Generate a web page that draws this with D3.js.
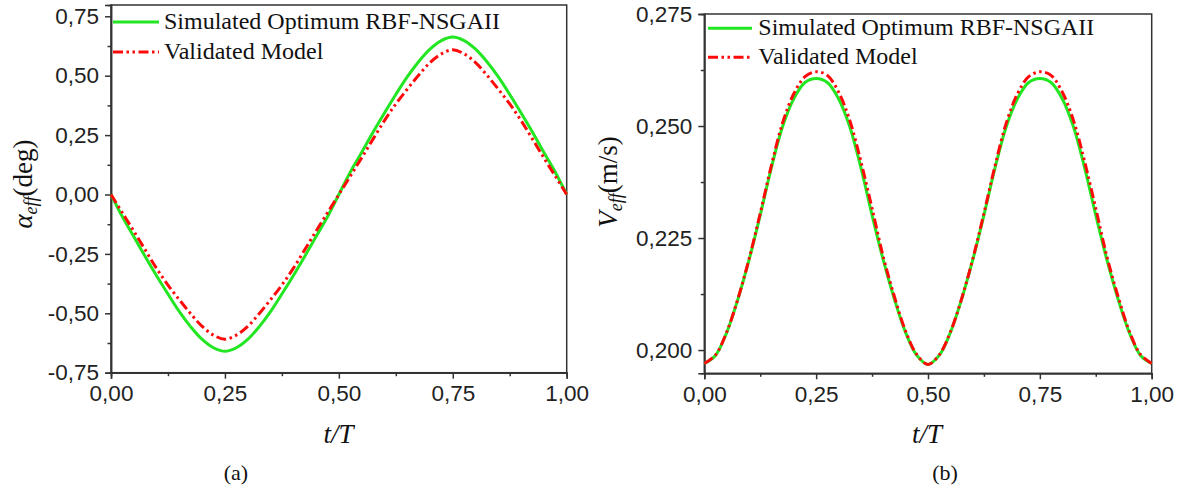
<!DOCTYPE html>
<html><head><meta charset="utf-8">
<script src="https://cdn.jsdelivr.net/npm/d3@7"></script>
<style>
html,body{margin:0;padding:0;background:#fff;}
svg{display:block;}
</style></head>
<body>
<svg id="chart" width="1179" height="492"></svg>
<script>
// ---- data ----
const tValues = [0,0.025,0.05,0.075,0.10,0.125,0.15,0.175,0.20,0.225,0.25,0.275,0.30,0.325,0.35,0.375,0.40,0.425,0.45,0.475,
                 0.50,0.525,0.55,0.575,0.60,0.625,0.65,0.675,0.70,0.725,0.75,0.775,0.80,0.825,0.85,0.875,0.90,0.925,0.95,0.975,1.00];
const alphaSim = [0,-0.094,-0.177,-0.261,-0.342,-0.419,-0.493,-0.557,-0.610,-0.645,-0.660,-0.645,-0.610,-0.557,-0.493,-0.419,-0.342,-0.261,-0.177,-0.094,
                  0,0.094,0.177,0.262,0.343,0.421,0.495,0.559,0.612,0.648,0.663,0.648,0.612,0.559,0.495,0.421,0.343,0.262,0.177,0.094,0];
const alphaVal = [0,-0.077,-0.154,-0.233,-0.311,-0.381,-0.443,-0.502,-0.555,-0.592,-0.609,-0.592,-0.555,-0.502,-0.443,-0.381,-0.311,-0.233,-0.154,-0.077,
                  0,0.077,0.154,0.233,0.311,0.381,0.443,0.502,0.555,0.592,0.609,0.592,0.555,0.502,0.443,0.381,0.311,0.233,0.154,0.077,0];
const vSim = [0.1970,0.1988,0.2039,0.2113,0.2201,0.2301,0.2407,0.2499,0.2561,0.2597,0.2606,0.2597,0.2561,0.2499,0.2407,0.2301,0.2201,0.2113,0.2039,0.1988,
              0.1968,0.1988,0.2039,0.2113,0.2201,0.2301,0.2407,0.2499,0.2561,0.2597,0.2606,0.2597,0.2561,0.2499,0.2407,0.2301,0.2201,0.2113,0.2039,0.1988,0.1970];
const vVal = [0.1970,0.1989,0.2040,0.2114,0.2203,0.2305,0.2412,0.2507,0.2572,0.2610,0.2621,0.2613,0.2576,0.2513,0.2421,0.2316,0.2208,0.2119,0.2042,0.1990,
              0.1968,0.1989,0.2040,0.2114,0.2203,0.2305,0.2412,0.2507,0.2572,0.2610,0.2621,0.2613,0.2576,0.2513,0.2421,0.2316,0.2208,0.2119,0.2042,0.1990,0.1970];
const xTicks = [0,0.25,0.5,0.75,1];
const xMinor = [0.125,0.375,0.625,0.875];
const alphaTicks = [-0.75,-0.5,-0.25,0,0.25,0.5,0.75];
const alphaMinor = [-0.625,-0.375,-0.125,0.125,0.375,0.625];
const vTicks = [0.200,0.225,0.250,0.275];
const vMinor = [0.2125,0.2375,0.2625];
const seriesNames = ["Simulated Optimum RBF-NSGAII","Validated Model"];

const svg = d3.select("#chart");
const GREEN = "#22e622", RED = "#ff0a0a", AX = "#333";
const DASH = "10,3.5,2.5,3.5,2.5,3.5";
const SERIF = "'Liberation Serif','Times New Roman',serif";

function fmt(dec){ return d => d3.format("."+dec+"f")(d).replace("−","-").replace(".",","); }

function panel(cfg){
  const x = d3.scaleLinear().domain([0,1]).range([cfg.left,cfg.right]);
  const y = d3.scaleLinear().domain(cfg.ydom).range([cfg.bottom,cfg.top]);
  const g = svg.append("g");
  g.append("rect").attr("x",cfg.left).attr("y",cfg.top)
    .attr("width",cfg.right-cfg.left).attr("height",cfg.bottom-cfg.top)
    .attr("fill","none").attr("stroke",AX).attr("stroke-width",1.5);
  const xa = g.append("g").attr("transform",`translate(0,${cfg.bottom})`)
    .call(d3.axisBottom(x).tickValues(xTicks).tickSize(6).tickPadding(6).tickFormat(fmt(2)));
  const xm = g.append("g").attr("transform",`translate(0,${cfg.bottom})`)
    .call(d3.axisBottom(x).tickValues(xMinor).tickSize(3.5).tickFormat(""));
  const ya = g.append("g").attr("transform",`translate(${cfg.left},0)`)
    .call(d3.axisLeft(y).tickValues(cfg.yticks).tickSize(6).tickPadding(6).tickFormat(fmt(cfg.dec)));
  const ym = g.append("g").attr("transform",`translate(${cfg.left},0)`)
    .call(d3.axisLeft(y).tickValues(cfg.yminor).tickSize(3.5).tickFormat(""));
  [xa,xm,ya,ym].forEach(a=>{
    a.select(".domain").attr("stroke",AX).attr("stroke-width",1.5);
    a.selectAll(".tick line").attr("stroke",AX).attr("stroke-width",1.5);
    a.selectAll(".tick text").attr("fill","#222")
      .style("font-family","'Liberation Sans', Arial, sans-serif").style("font-size","22.5px");
  });
  xa.selectAll(".tick text").attr("dy","0.74em");
  const line = d3.line().x((d,i)=>x(tValues[i])).y(d=>y(d)).curve(d3.curveCatmullRom.alpha(0.5));
  g.append("path").attr("d",line(cfg.sim)).attr("fill","none").attr("stroke",GREEN).attr("stroke-width",3);
  g.append("path").attr("d",line(cfg.val)).attr("fill","none").attr("stroke",RED).attr("stroke-width",3)
    .attr("stroke-dasharray",DASH);
  const lg = g.append("g");
  seriesNames.forEach((name,i)=>{
    const ly = cfg.legY + i*cfg.legDy;
    lg.append("line").attr("x1",cfg.legX1).attr("x2",cfg.legX2).attr("y1",ly).attr("y2",ly)
      .attr("stroke", i===0?GREEN:RED).attr("stroke-width",3)
      .attr("stroke-dasharray", i===0?null:DASH);
    lg.append("text").attr("x",cfg.legTx).attr("y",ly+7).text(name)
      .style("font-family",SERIF).style("font-size","24px").attr("fill","#111");
  });
  g.append("text").attr("x",cfg.xlabX).attr("y",443).attr("text-anchor","middle")
    .style("font-family",SERIF).style("font-size","27px")
    .style("font-style","italic").attr("fill","#111").text("t/T");
  g.append("text").attr("x",cfg.panX).attr("y",480).attr("text-anchor","middle")
    .style("font-family",SERIF).style("font-size","22px")
    .attr("fill","#111").text(cfg.panel);
  const yl = g.append("text").attr("transform",`translate(${cfg.ylabX},${cfg.ylabY}) rotate(-90)`)
    .attr("text-anchor","middle")
    .style("font-family",SERIF).style("font-size","27px").attr("fill","#111");
  yl.append("tspan").style("font-style","italic").text(cfg.ysym);
  yl.append("tspan").style("font-style","italic").style("font-size","18px").attr("dy","5").text("eff");
  yl.append("tspan").attr("dy","-5").text(cfg.yunit);
}

panel({left:111,right:566.7,top:5,bottom:372.7,ydom:[-0.75,0.7976],yticks:alphaTicks,yminor:alphaMinor,dec:2,
  sim:alphaSim,val:alphaVal,legX1:113,legX2:159,legTx:164,legY:22,legDy:30,xlabX:338.5,panX:236,
  ylabX:32,ylabY:184,ysym:"α",yunit:"(deg)",panel:"(a)"});
panel({left:704.3,right:1151.7,top:14,bottom:373.3,ydom:[0.19481,0.275],yticks:vTicks,yminor:vMinor,dec:3,
  sim:vSim,val:vVal,legX1:708,legX2:752,legTx:758.3,legY:28.3,legDy:29,xlabX:927,panX:945,
  ylabX:617,ylabY:182,ysym:"V",yunit:"(m/s)",panel:"(b)"});
</script>
</body></html>
